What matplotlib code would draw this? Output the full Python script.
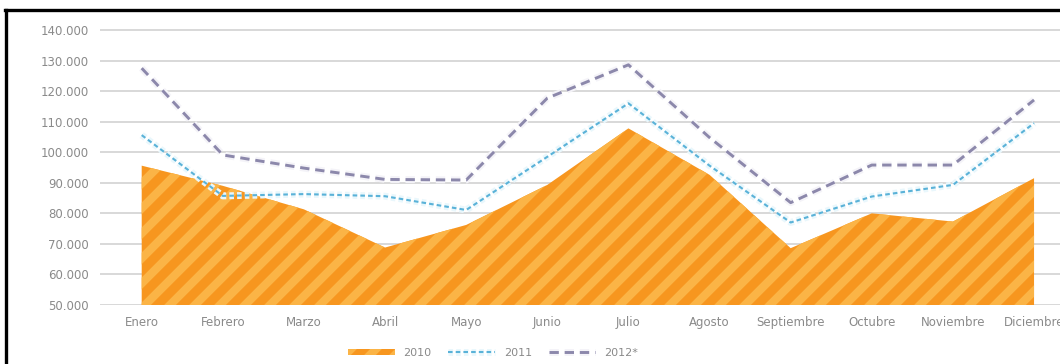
import matplotlib
matplotlib.use("Agg")
import matplotlib.pyplot as plt
import matplotlib.patheffects as pe
from matplotlib.lines import Line2D
from matplotlib.ticker import FuncFormatter, MultipleLocator

# Monthly values per year
meses = ["Enero", "Febrero", "Marzo", "Abril", "Mayo", "Junio", "Julio",
         "Agosto", "Septiembre", "Octubre", "Noviembre", "Diciembre"]
v2010 = [95600, 89000, 81300, 68800, 76200, 89300, 107800, 92600, 68600, 80000, 77300, 91500]
v2011 = [105600, 85700, 86300, 85600, 81100, 98500, 116000, 95600, 77000, 85500, 89300, 109500]
v2012 = [127500, 99100, 94800, 91100, 90900, 117700, 128600, 104800, 83500, 95800, 95800, 117100]

# hatch spacing follows the dpi; k converts sizes written for 100 dpi
DPI = 75
k = 100 / DPI

plt.rcParams["hatch.linewidth"] = 8.0
plt.rcParams["hatch.color"] = "#fbb446"

fig = plt.figure(figsize=(1060 / DPI, 364 / DPI), dpi=DPI)
ax = fig.add_axes([100 / 1060, 1 - 305 / 364, 1 - 100 / 1060, 277 / 364])

x = list(range(len(meses)))

ax.fill_between(x, 50000, v2010, facecolor="#f7961f", edgecolor="none",
                hatch="/", zorder=2, label="2010")
ax.plot(x, v2011, color="#5ab2d8", lw=1.5 * k, dashes=(2.2, 1.5), zorder=3,
        path_effects=[pe.Stroke(linewidth=5 * k, foreground="#e9f7fc"), pe.Normal()],
        label="2011")
ax.plot(x, v2012, color="#8c88ab", lw=2.1 * k, dashes=(3.2, 2.0), zorder=4,
        path_effects=[pe.Stroke(linewidth=5 * k, foreground="#f4f3f8"), pe.Normal()],
        label="2012*")

ax.set_xlim(-0.514, 11.32)
ax.set_ylim(50000, 140650)
ax.yaxis.set_major_locator(MultipleLocator(10000))
ax.yaxis.set_major_formatter(FuncFormatter(lambda v, p: f"{v:,.0f}".replace(",", ".")))
ax.set_xticks(x)
ax.set_xticklabels(meses)

ax.grid(axis="y", color="#d2d2d2", lw=1.2 * k, zorder=0)
ax.grid(axis="x", visible=False)
for s in ax.spines.values():
    s.set_visible(False)
ax.tick_params(length=0, colors="#8a8a8a", labelsize=8.5 * k)
ax.tick_params(axis="y", pad=8 * k)
ax.tick_params(axis="x", pad=8 * k)

fig.legend(loc="center", bbox_to_anchor=(493 / 1060, 1 - 353 / 364), ncol=3,
           frameon=False, fontsize=8 * k, labelcolor="#8a8a8a", handlelength=4.2,
           handleheight=0.5, columnspacing=1.5, handletextpad=0.8)

# black frame on top and left
fig.add_artist(Line2D([5 / 1060, 1], [1 - 10 / 364, 1 - 10 / 364], color="black", lw=2.4 * k))
fig.add_artist(Line2D([6 / 1060, 6 / 1060], [0, 1 - 10 / 364], color="black", lw=2.4 * k))

fig.savefig("out.png", dpi=DPI, facecolor="white")
